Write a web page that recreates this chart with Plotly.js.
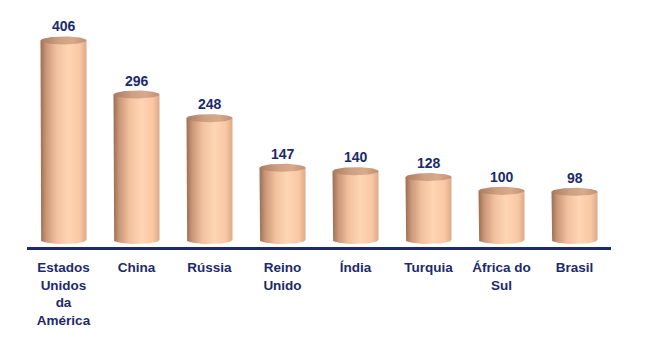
<!DOCTYPE html>
<html>
<head>
<meta charset="utf-8">
<script src="https://cdn.plot.ly/plotly-3.0.1.min.js"></script>
<style>html,body{margin:0;padding:0;background:#fff}#chart{width:654px;height:355px}</style>
</head>
<body>
<div id="chart"></div>
<script>
// Data
const categories = ["Estados<br>Unidos<br>da<br>América", "China", "Rússia", "Reino<br>Unido", "Índia", "Turquia", "África do<br>Sul", "Brasil"];
const values = [406, 296, 248, 147, 140, 128, 100, 98];

const navy = '#1d2a6c';
const halfW = 0.315;   // cylinder half width (category units)
const ry = 8.2;        // ellipse half height (value units)
const N = 40;

const traces = [];
const bodyScale = [[0,'#9a6d52'],[0.12,'#c99677'],[0.35,'#f2c19f'],[0.6,'#ffd5b4'],[0.85,'#f9c8a5'],[1,'#dcaa88']];
const topScale = [[0,'#a97b60'],[0.4,'#cf9f82'],[0.7,'#d8a98b'],[1,'#c29075']];

values.forEach((v, i) => {
  // body
  const bx = [i - halfW, i - halfW];
  const by = [v, 0];
  for (let k = 0; k <= N; k++) {
    const t = Math.PI + Math.PI * k / N;
    bx.push(i + halfW * Math.cos(t));
    by.push(ry * Math.sin(t));
  }
  bx.push(i + halfW, i - halfW);
  by.push(v, v);
  traces.push({
    x: bx, y: by, type: 'scatter', mode: 'lines', fill: 'toself',
    line: {width: 0, color: 'rgba(0,0,0,0)'},
    fillgradient: {type: 'horizontal', colorscale: bodyScale},
    hoverinfo: 'skip', showlegend: false
  });
  // top ellipse
  const tx = [], ty = [];
  for (let k = 0; k <= 2 * N; k++) {
    const t = 2 * Math.PI * k / (2 * N);
    tx.push(i + halfW * Math.cos(t));
    ty.push(v + ry * Math.sin(t));
  }
  traces.push({
    x: tx, y: ty, type: 'scatter', mode: 'lines', fill: 'toself',
    line: {width: 0, color: 'rgba(0,0,0,0)'},
    fillgradient: {type: 'horizontal', colorscale: topScale},
    hoverinfo: 'skip', showlegend: false
  });
});

const annotations = values.map((v, i) => ({
  x: i, y: v, xref: 'x', yref: 'y', text: String(v), showarrow: false,
  yanchor: 'bottom', yshift: 4,
  font: {family: 'Liberation Sans, Arial, sans-serif', size: 14, color: navy, weight: 'bold'}
}));

const layout = {
  width: 654, height: 355,
  margin: {l: 27, r: 43, t: 10, b: 108},
  paper_bgcolor: '#ffffff', plot_bgcolor: '#ffffff',
  showlegend: false,
  xaxis: {
    range: [-0.5, 7.5], tickvals: values.map((_, i) => i), ticktext: categories,
    showgrid: false, zeroline: false, showline: true, linecolor: navy, linewidth: 3,
    ticks: '', ticklabelstandoff: 6,
    tickfont: {family: 'Liberation Sans, Arial, sans-serif', size: 13.5, color: navy, weight: 'bold'},
    fixedrange: true
  },
  yaxis: {
    range: [-14.25, 468], visible: false, showgrid: false, zeroline: false, fixedrange: true
  },
  annotations: annotations
};

Plotly.newPlot('chart', traces, layout, {displayModeBar: false, staticPlot: true});
</script>
</body>
</html>
